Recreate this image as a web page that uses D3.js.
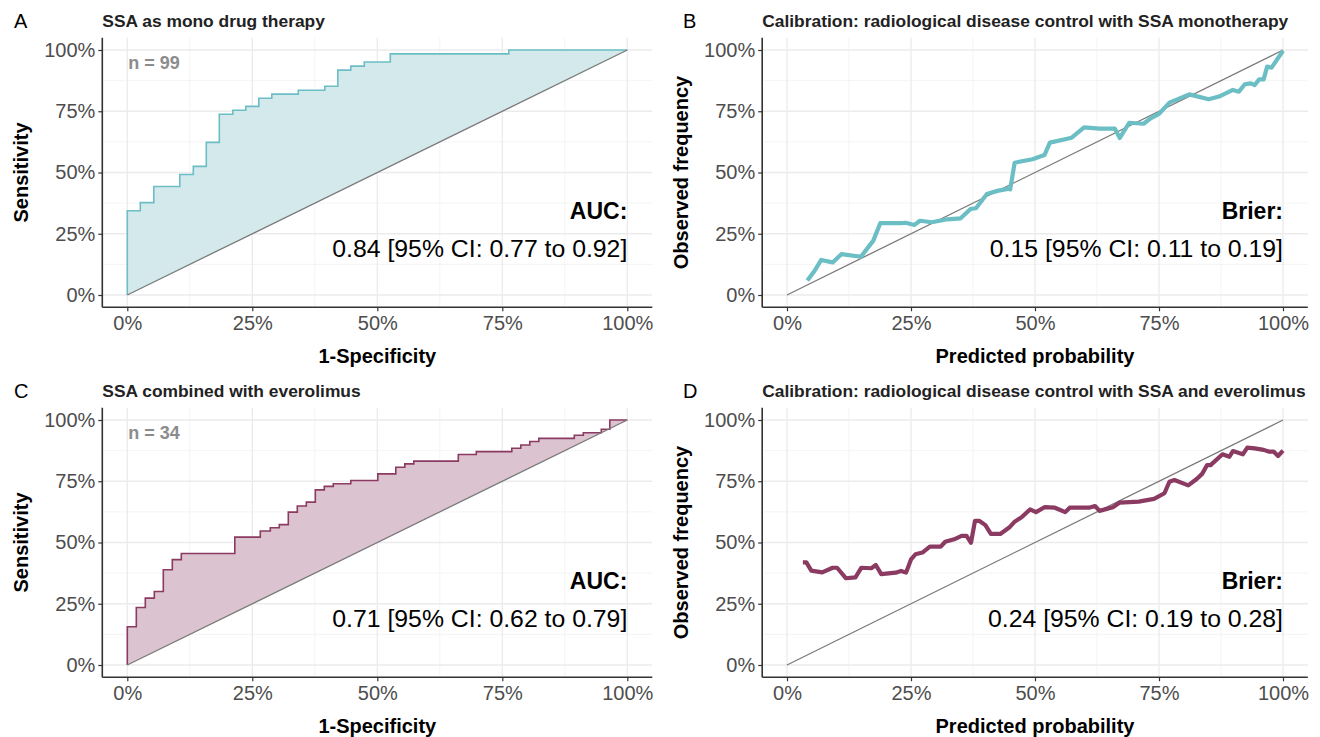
<!DOCTYPE html>
<html>
<head>
<meta charset="utf-8">
<script src="https://cdn.jsdelivr.net/npm/d3@7"></script>
<style>
  body { margin: 0; background: #fff; }
  svg { display: block; font-family: "Liberation Sans", Arial, sans-serif; }
  .tick-label { fill: #4d4d4d; font-size: 20px; }
  .axis-title { font-weight: bold; font-size: 20px; fill: #000; }
  .panel-title { font-weight: bold; font-size: 17.4px; fill: #222; }
  .panel-tag { font-size: 20px; fill: #000; }
</style>
</head>
<body>
<div id="chart"></div>
<script>
// ---- data ----
const tickValues = [0, 0.25, 0.5, 0.75, 1];
const tickLabels = ['0%', '25%', '50%', '75%', '100%'];
const minorValues = [0.125, 0.375, 0.625, 0.875];

// ROC, SSA monotherapy (step corners: 1-specificity / sensitivity)
const rocMonoFpr = [0, 0, 0.026, 0.053, 0.105, 0.132, 0.158, 0.184, 0.211, 0.237, 0.263, 0.289, 0.342, 0.395, 0.421, 0.447, 0.474, 0.526, 0.763, 1.0];
const rocMonoTpr = [0, 0.344, 0.377, 0.443, 0.492, 0.525, 0.623, 0.738, 0.754, 0.770, 0.803, 0.820, 0.836, 0.852, 0.918, 0.934, 0.951, 0.984, 1.0, 1.0];

// ROC, SSA + everolimus
const rocEveroFpr = [0, 0, 0.018, 0.036, 0.054, 0.072, 0.090, 0.108, 0.215, 0.266, 0.286, 0.304, 0.322, 0.340, 0.358, 0.376, 0.394, 0.412, 0.447, 0.501, 0.537, 0.555, 0.573, 0.662, 0.698, 0.769, 0.787, 0.805, 0.823, 0.894, 0.912, 0.948, 0.965, 1.0];
const rocEveroTpr = [0, 0.156, 0.235, 0.273, 0.300, 0.389, 0.430, 0.455, 0.522, 0.547, 0.560, 0.573, 0.624, 0.649, 0.665, 0.715, 0.729, 0.740, 0.753, 0.780, 0.807, 0.821, 0.832, 0.859, 0.871, 0.885, 0.898, 0.912, 0.925, 0.938, 0.948, 0.962, 1.0, 1.0];

// calibration, SSA monotherapy
const calMonoPred = [0.041, 0.055, 0.069, 0.092, 0.110, 0.149, 0.174, 0.188, 0.230, 0.239, 0.257, 0.268, 0.292, 0.323, 0.350, 0.370, 0.381, 0.403, 0.426, 0.448, 0.450, 0.459, 0.495, 0.519, 0.530, 0.574, 0.599, 0.630, 0.661, 0.671, 0.690, 0.719, 0.733, 0.750, 0.771, 0.811, 0.850, 0.871, 0.899, 0.911, 0.923, 0.935, 0.943, 0.952, 0.961, 0.968, 0.977, 1.0];
const calMonoObs  = [0.059, 0.097, 0.143, 0.133, 0.167, 0.156, 0.222, 0.293, 0.293, 0.295, 0.286, 0.303, 0.297, 0.309, 0.313, 0.351, 0.354, 0.412, 0.426, 0.434, 0.431, 0.540, 0.554, 0.571, 0.622, 0.642, 0.684, 0.679, 0.679, 0.641, 0.703, 0.699, 0.721, 0.739, 0.785, 0.819, 0.799, 0.810, 0.837, 0.830, 0.860, 0.864, 0.857, 0.880, 0.880, 0.932, 0.928, 0.997];

// calibration, SSA + everolimus
const calEveroPred = [0.032, 0.039, 0.049, 0.071, 0.092, 0.101, 0.119, 0.138, 0.150, 0.170, 0.179, 0.190, 0.219, 0.230, 0.240, 0.250, 0.259, 0.273, 0.288, 0.310, 0.319, 0.337, 0.352, 0.362, 0.371, 0.379, 0.388, 0.400, 0.411, 0.430, 0.448, 0.459, 0.473, 0.490, 0.502, 0.519, 0.540, 0.561, 0.570, 0.609, 0.621, 0.630, 0.657, 0.671, 0.709, 0.740, 0.761, 0.771, 0.781, 0.809, 0.826, 0.837, 0.847, 0.854, 0.878, 0.892, 0.899, 0.919, 0.928, 0.943, 0.961, 0.971, 0.981, 0.990, 1.0];
const calEveroObs  = [0.419, 0.419, 0.385, 0.378, 0.397, 0.397, 0.354, 0.358, 0.397, 0.395, 0.408, 0.371, 0.377, 0.384, 0.377, 0.431, 0.452, 0.459, 0.483, 0.483, 0.503, 0.513, 0.527, 0.527, 0.499, 0.588, 0.588, 0.571, 0.535, 0.535, 0.561, 0.585, 0.603, 0.635, 0.624, 0.644, 0.642, 0.624, 0.642, 0.642, 0.649, 0.629, 0.644, 0.663, 0.667, 0.678, 0.701, 0.748, 0.755, 0.733, 0.759, 0.780, 0.816, 0.816, 0.860, 0.850, 0.873, 0.860, 0.887, 0.884, 0.878, 0.871, 0.871, 0.853, 0.875];

const panels = [
  { tag: 'A', type: 'roc', title: 'SSA as mono drug therapy', fpr: rocMonoFpr, tpr: rocMonoTpr,
    n: 'n = 99', label: 'AUC:', value: '0.84 [95% CI: 0.77 to 0.92]', line: '#6bbec4', fill: '#d4e9eb',
    xTitle: '1-Specificity', yTitle: 'Sensitivity', col: 0, row: 0 },
  { tag: 'B', type: 'cal', title: 'Calibration: radiological disease control with SSA monotherapy', pred: calMonoPred, obs: calMonoObs,
    label: 'Brier:', value: '0.15 [95% CI: 0.11 to 0.19]', line: '#6bbec4',
    xTitle: 'Predicted probability', yTitle: 'Observed frequency', col: 1, row: 0 },
  { tag: 'C', type: 'roc', title: 'SSA combined with everolimus', fpr: rocEveroFpr, tpr: rocEveroTpr,
    n: 'n = 34', label: 'AUC:', value: '0.71 [95% CI: 0.62 to 0.79]', line: '#8b3a62', fill: '#dbc3cf',
    xTitle: '1-Specificity', yTitle: 'Sensitivity', col: 0, row: 1 },
  { tag: 'D', type: 'cal', title: 'Calibration: radiological disease control with SSA and everolimus', pred: calEveroPred, obs: calEveroObs,
    label: 'Brier:', value: '0.24 [95% CI: 0.19 to 0.28]', line: '#8b3a62',
    xTitle: 'Predicted probability', yTitle: 'Observed frequency', col: 1, row: 1 }
];

// ---- layout ----
const W = 1320, H = 737;
// pixel positions of 0 and 1 for each column / row
const colRange = [[127.3, 627.3], [787, 1283]];
const rowRange = [[295, 50], [665, 420]];

const svg = d3.select('#chart').append('svg')
  .attr('width', W)
  .attr('height', H);

panels.forEach(p => {
  const [x0, x1] = colRange[p.col];
  const [y0, y1] = rowRange[p.row];
  const padX = (x1 - x0) * 0.05, padY = (y0 - y1) * 0.05;

  const x = d3.scaleLinear().domain([0, 1]).range([x0, x1]);
  const y = d3.scaleLinear().domain([0, 1]).range([y0, y1]);
  const left = x0 - padX, right = x1 + padX, top = y1 - padY, bottom = y0 + padY;

  const g = svg.append('g');

  // grid
  const grid = g.append('g');
  minorValues.forEach(v => {
    grid.append('line').attr('x1', x(v)).attr('x2', x(v)).attr('y1', top).attr('y2', bottom)
      .attr('stroke', '#efefef').attr('stroke-width', 0.7);
    grid.append('line').attr('y1', y(v)).attr('y2', y(v)).attr('x1', left).attr('x2', right)
      .attr('stroke', '#efefef').attr('stroke-width', 0.7);
  });
  tickValues.forEach(v => {
    grid.append('line').attr('x1', x(v)).attr('x2', x(v)).attr('y1', top).attr('y2', bottom)
      .attr('stroke', '#ebebeb').attr('stroke-width', 1.3);
    grid.append('line').attr('y1', y(v)).attr('y2', y(v)).attr('x1', left).attr('x2', right)
      .attr('stroke', '#ebebeb').attr('stroke-width', 1.3);
  });

  if (p.type === 'roc') {
    // expand step corners into a path
    const pts = [];
    p.fpr.forEach((f, i) => {
      if (i > 0) pts.push({ f: f, t: p.tpr[i - 1] });
      pts.push({ f: f, t: p.tpr[i] });
    });
    const area = d3.area()
      .x(d => x(d.f))
      .y0(d => y(d.f))
      .y1(d => y(d.t));
    g.append('path').datum(pts)
      .attr('d', area)
      .attr('fill', p.fill);
    g.append('path').datum(pts)
      .attr('d', d3.line().x(d => x(d.f)).y(d => y(d.t)))
      .attr('fill', 'none')
      .attr('stroke', p.line)
      .attr('stroke-width', 1.6);
  }

  // reference diagonal
  g.append('line')
    .attr('x1', x(0)).attr('y1', y(0)).attr('x2', x(1)).attr('y2', y(1))
    .attr('stroke', '#7a7a7a').attr('stroke-width', 1.3);

  if (p.type === 'cal') {
    const pts = p.pred.map((v, i) => ({ p: v, o: p.obs[i] }));
    g.append('path').datum(pts)
      .attr('d', d3.line().x(d => x(d.p)).y(d => y(d.o)))
      .attr('fill', 'none')
      .attr('stroke', p.line)
      .attr('stroke-width', 4.2)
      .attr('stroke-linejoin', 'round')
      .attr('stroke-linecap', 'butt');
  }

  // axes
  const xAxis = d3.axisBottom(x).tickValues(tickValues).tickFormat((d, i) => tickLabels[i]).tickSize(4).tickPadding(5);
  const yAxis = d3.axisLeft(y).tickValues(tickValues).tickFormat((d, i) => tickLabels[i]).tickSize(4).tickPadding(3);

  const gx = g.append('g').attr('transform', `translate(0,${bottom})`).call(xAxis);
  const gy = g.append('g').attr('transform', `translate(${left},0)`).call(yAxis);
  [gx, gy].forEach(ax => {
    ax.select('.domain').remove();
    ax.selectAll('.tick line').attr('stroke', '#333').attr('stroke-width', 1.2);
    ax.selectAll('.tick text').attr('class', 'tick-label').attr('font-family', null).attr('font-size', null);
  });
  g.append('line').attr('x1', left).attr('x2', right).attr('y1', bottom).attr('y2', bottom)
    .attr('stroke', '#333').attr('stroke-width', 1.6);
  g.append('line').attr('x1', left).attr('x2', left).attr('y1', top).attr('y2', bottom)
    .attr('stroke', '#333').attr('stroke-width', 1.6);

  // axis titles
  g.append('text').attr('class', 'axis-title')
    .attr('text-anchor', 'middle')
    .attr('x', (left + right) / 2)
    .attr('y', bottom + 56)
    .text(p.xTitle);
  g.append('text').attr('class', 'axis-title')
    .attr('text-anchor', 'middle')
    .attr('transform', `translate(${left - 74},${(top + bottom) / 2}) rotate(-90)`)
    .text(p.yTitle);

  // titles and tag
  g.append('text').attr('class', 'panel-title')
    .attr('x', left).attr('y', top - 11)
    .text(p.title);
  g.append('text').attr('class', 'panel-tag')
    .attr('x', p.col === 0 ? 14 : 683).attr('y', top - 10)
    .text(p.tag);

  // annotations
  if (p.n) {
    g.append('text')
      .attr('x', x(0) + 1).attr('y', y(0.947))
      .attr('dy', '0.35em')
      .attr('font-weight', 'bold').attr('font-size', 18).attr('fill', '#8c8c8c')
      .text(p.n);
  }
  g.append('text')
    .attr('x', x(1)).attr('y', y(0.345))
    .attr('dy', '0.36em')
    .attr('text-anchor', 'end')
    .attr('font-weight', 'bold').attr('font-size', 23)
    .text(p.label);
  g.append('text')
    .attr('x', x(1)).attr('y', y(0.19))
    .attr('dy', '0.36em')
    .attr('text-anchor', 'end')
    .attr('font-size', 24.8)
    .text(p.value);
});
</script>
</body>
</html>
